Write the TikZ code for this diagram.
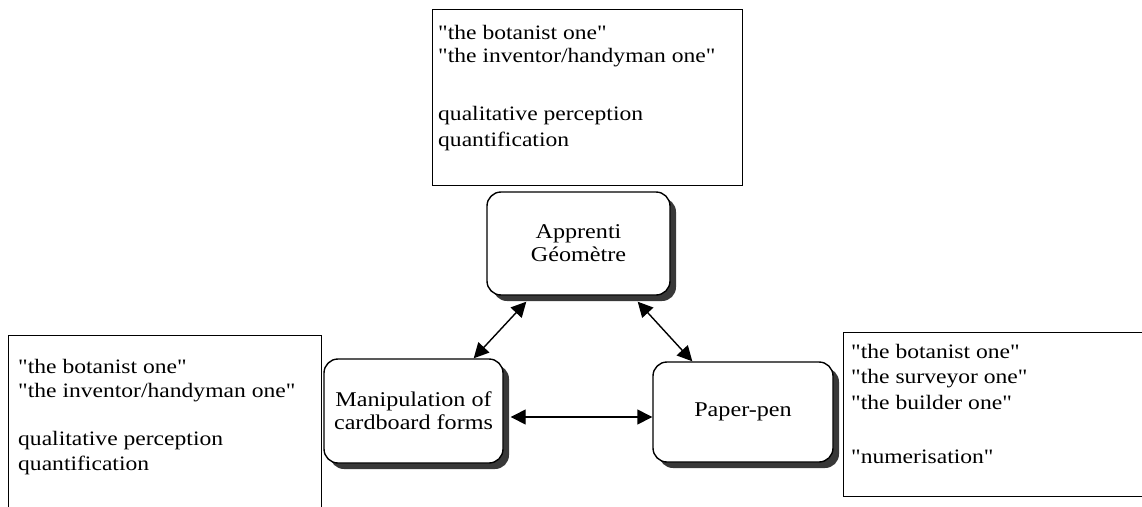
\documentclass[tikz,border=0pt]{standalone}
\usepackage{fontspec}
\setmainfont[FakeStretch=1.15,Ligatures=TeXOff]{Liberation Serif}
\usetikzlibrary{shadows,arrows.meta,calc}
\begin{document}
\begin{tikzpicture}[x=1pt,y=-1pt,
  outbox/.style={draw,line width=1.2pt,anchor=north west,inner sep=0pt},
  line/.style={anchor=base west,inner sep=0pt,font=\fontsize{20.5pt}{24pt}\selectfont},
  tool/.style={draw,line width=1.4pt,rounded corners=14pt,fill=white,align=center,
    inner sep=0pt,font=\fontsize{21pt}{23pt}\selectfont,
    drop shadow={shadow xshift=6pt,shadow yshift=-6pt,fill=black!78,opacity=1}},
  arr/.style={line width=1.4pt,{Triangle[length=15pt,width=15pt]}-{Triangle[length=15pt,width=15pt]}}]
\useasboundingbox (0,0) rectangle (1142,506);
\clip (0,0) rectangle (1142,506);
% outer text boxes
\node[outbox,minimum width=310pt,minimum height=176pt] (tbox) at (432,9) {};
\node[outbox,minimum width=313pt,minimum height=190pt] (lbox) at (8,335) {};
\node[outbox,minimum width=320pt,minimum height=164pt] (rbox) at (843,332) {};
% top box text
\node[line] (t1) at (438,39) {"the botanist one"};
\node[line] (t2) at (438,62) {"the inventor/handyman one"};
\node[line] (t3) at (438,120) {qualitative perception};
\node[line] (t4) at (438,146) {quantification};
% left box text
\node[line] (l1) at (18,373) {"the botanist one"};
\node[line] (l2) at (18,397) {"the inventor/handyman one"};
\node[line] (l3) at (18,445) {qualitative perception};
\node[line] (l4) at (18,470) {quantification};
% right box text
\node[line] (r1) at (851,358) {"the botanist one"};
\node[line] (r2) at (851,383) {"the surveyor one"};
\node[line] (r3) at (851,409) {"the builder one"};
\node[line] (r4) at (851,463) {"numerisation"};
% tools
\node[tool,minimum width=183pt,minimum height=103pt] (app) at (578.5,243.5) {Apprenti\\Géomètre};
\node[tool,minimum width=179pt,minimum height=104pt] (man) at (413.5,411) {Manipulation of\\cardboard forms};
\node[tool,minimum width=180pt,minimum height=100pt] (pp) at (743,412) {Paper-pen};
% connectors
\coordinate (a1) at ($(app.south west)+(40,6)$);
\coordinate (a2) at ($(app.south east)+(-33,6)$);
\coordinate (m1) at ($(man.north east)+(-30,0)$);
\coordinate (p1) at ($(pp.north west)+(40,0)$);
\coordinate (m2) at ($(man.east)+(7,6)$);
\coordinate (p2) at (pp.west |- m2);
\draw[arr] (a1) -- (m1);
\draw[arr] (a2) -- (p1);
\draw[arr] (m2) -- (p2);
\end{tikzpicture}
\end{document}
